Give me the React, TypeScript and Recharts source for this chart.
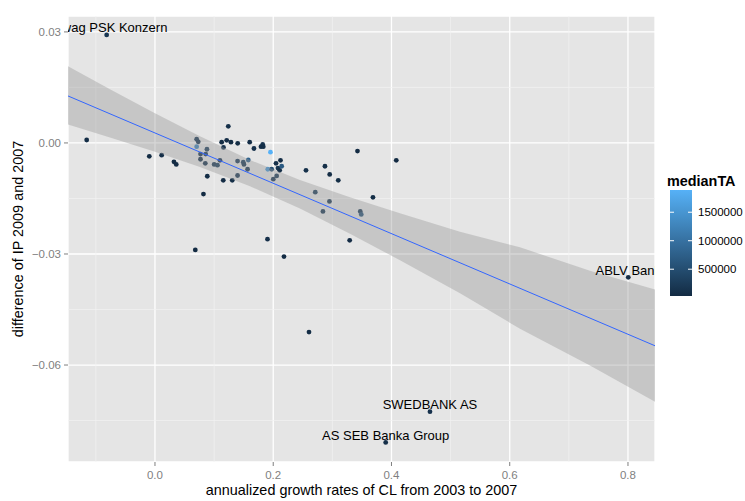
import React from 'react';
import {
  ComposedChart,
  Scatter,
  Area,
  Line,
  XAxis,
  YAxis,
  CartesianGrid,
  ReferenceLine,
} from 'recharts';

// one entry per bank: growth of CL 2003-07, change of IP 2007-09, median total assets
const growthCL = [
  -0.0817, -0.1155, -0.0096, 0.0113, 0.0321, 0.036, 0.0705, 0.0732, 0.0705, 0.0879,
  0.077, 0.0858, 0.077, 0.0851, 0.0885, 0.082, 0.0682, 0.1001, 0.1057, 0.1099,
  0.124, 0.1128, 0.1213, 0.1285, 0.1159, 0.1399, 0.1155, 0.1307, 0.1397, 0.1397,
  0.1493, 0.1505, 0.1578, 0.1566, 0.1602, 0.1674, 0.1793, 0.1822, 0.1832, 0.1953,
  0.1908, 0.1974, 0.2047, 0.2123, 0.208, 0.2109, 0.2143, 0.2058, 0.2001, 0.1903,
  0.2182, 0.2554, 0.2875, 0.2955, 0.31, 0.3425, 0.2711, 0.2951, 0.2841, 0.3472,
  0.3489, 0.3687, 0.3293, 0.4081, 0.2605, 0.4651, 0.3902, 0.8005,
];
const diffIP = [
  0.0292, 0.0008, -0.0036, -0.0033, -0.0051, -0.0058, 0.001, 0.0003, -0.001, -0.0017,
  -0.003, -0.003, -0.0044, -0.0055, -0.009, -0.0138, -0.0289, -0.0058, -0.006, -0.0047,
  0.0045, 0.0002, 0.0007, 0.0002, -0.0012, -0.0001, -0.0101, -0.0101, -0.0049, -0.0088,
  -0.0052, -0.0058, -0.0046, -0.0071, 0.0002, -0.0015, -0.001, -0.0004, -0.001, -0.0025,
  -0.0071, -0.0071, -0.0055, -0.0047, -0.0068, -0.0074, -0.0063, -0.0089, -0.0098, -0.026,
  -0.0307, -0.0074, -0.0063, -0.0085, -0.0101, -0.0022, -0.0133, -0.0158, -0.0185, -0.0185,
  -0.0193, -0.0147, -0.0263, -0.0047, -0.0511, -0.0726, -0.0809, -0.0363,
];
const medianTA = [
  180000, 60000, 40000, 90000, 30000, 50000, 210000, 150000, 1250000, 300000,
  120000, 180000, 80000, 140000, 70000, 45000, 35000, 200000, 260000, 110000,
  95000, 55000, 75000, 40000, 130000, 65000, 50000, 85000, 240000, 160000,
  280000, 190000, 780000, 170000, 60000, 120000, 90000, 140000, 70000, 1890000,
  1520000, 520000, 100000, 60000, 150000, 80000, 680000, 220000, 170000, 90000,
  40000, 110000, 80000, 55000, 65000, 45000, 260000, 200000, 180000, 230000,
  560000, 70000, 50000, 35000, 60000, 120000, 90000, 75000,
];

const labelNames = ['Bawag PSK Konzern', 'SWEDBANK AS', 'AS SEB Banka Group', 'ABLV Bank'];
const labelGrowth = [-0.0817, 0.4651, 0.3902, 0.8005];
const labelDiff = [0.0292, -0.0726, -0.0809, -0.0363];

// linear fit and its confidence band
const fitX = [-0.1471, 0.8457];
const fitY = [0.0127, -0.0548];
const bandX = [-0.1471, -0.0761, 0, 0.0761, 0.1607, 0.2452, 0.3298, 0.4144, 0.5159, 0.6173, 0.7357, 0.8457];
const bandLow = [0.005, 0.0015, -0.0024, -0.0065, -0.0117, -0.0177, -0.0245, -0.0317, -0.0406, -0.0502, -0.0601, -0.0699];
const bandHigh = [0.0207, 0.0145, 0.008, 0.0018, -0.0046, -0.01, -0.0147, -0.019, -0.024, -0.0282, -0.0345, -0.0396];

const xTicks = [0, 0.2, 0.4, 0.6, 0.8];
const yTicks = [-0.06, -0.03, 0, 0.03];
const xMinor = [-0.1, 0.1, 0.3, 0.5, 0.7];
const yMinor = [-0.075, -0.045, -0.015, 0.015];
const legendTicks = [500000, 1000000, 1500000];
const taRange = [30000, 1890000];

const LOW = [19, 43, 67];
const HIGH = [86, 177, 247];

const taColor = (v: number) => {
  const t = Math.max(0, Math.min(1, (v - taRange[0]) / (taRange[1] - taRange[0])));
  const c = LOW.map((l, i) => Math.round(l + (HIGH[i] - l) * t));
  return `rgb(${c[0]},${c[1]},${c[2]})`;
};

const points = growthCL.map((x, i) => ({ x, y: diffIP[i], ta: medianTA[i] }));
const labelPoints = labelNames.map((name, i) => ({ x: labelGrowth[i], y: labelDiff[i], name }));
const fitLine = fitX.map((x, i) => ({ x, y: fitY[i] }));
const band = bandX.map((x, i) => ({ x, range: [bandLow[i], bandHigh[i]] }));

const fmtY = (v: number) => v.toFixed(2).replace('-', '\u2212');

const Dot = (p: any) => <circle cx={p.cx} cy={p.cy} r={2.4} fill={taColor(p.payload.ta)} />;

const Tag = (p: any) => (
  <text x={p.cx} y={p.cy - 2.5} textAnchor="middle" fontSize={13} fill="#000">
    {p.payload.name}
  </text>
);

const XTitle = (p: any) => {
  const vb = p.viewBox;
  return (
    <text x={vb.x + vb.width / 2} y={vb.y + vb.height - 6.5} textAnchor="middle" fontSize={14.4} fill="#000">
      annualized growth rates of CL from 2003 to 2007
    </text>
  );
};

const YTitle = (p: any) => {
  const vb = p.viewBox;
  const cx = vb.x + 23;
  const cy = vb.y + vb.height / 2;
  return (
    <text x={cx} y={cy} transform={`rotate(-90 ${cx} ${cy})`} textAnchor="middle" fontSize={14.4} fill="#000">
      difference of IP 2009 and 2007
    </text>
  );
};

const ColorBar = () => {
  const top = 25;
  const h = 106;
  const left = 10;
  const w = 22;
  const stops = [0, 0.25, 0.5, 0.75, 1];
  const posOf = (v: number) => top + ((taRange[1] - v) / (taRange[1] - taRange[0])) * h;
  return (
    <svg width={85} height={140} style={{ position: 'absolute', left: 660, top: 165 }}>
      <defs>
        <linearGradient id="taGrad" x1="0" y1="0" x2="0" y2="1">
          {stops.map((s) => (
            <stop key={s} offset={s} stopColor={taColor(taRange[1] - s * (taRange[1] - taRange[0]))} />
          ))}
        </linearGradient>
      </defs>
      <text x={7} y={21} fontSize={14.4} fontWeight="bold" fill="#000">medianTA</text>
      <rect x={left} y={top} width={w} height={h} fill="url(#taGrad)" />
      {legendTicks.map((t) => (
        <g key={t}>
          <line x1={left} x2={left + 4} y1={posOf(t)} y2={posOf(t)} stroke="#fff" strokeWidth={1} />
          <line x1={left + w - 4} x2={left + w} y1={posOf(t)} y2={posOf(t)} stroke="#fff" strokeWidth={1} />
          <text x={left + w + 6} y={posOf(t) + 4} fontSize={11.5} fill="#000">{t}</text>
        </g>
      ))}
    </svg>
  );
};

export default function App() {
  return (
    <div style={{ position: 'relative', width: 745, height: 501, fontFamily: '"Liberation Sans", Arial, sans-serif' }}>
      <style>{'body{margin:0}'}</style>
      <ComposedChart width={745} height={501} margin={{ top: 16, right: 90, bottom: 0, left: 0 }}>
        <CartesianGrid fill="#E5E5E5" fillOpacity={1} stroke="#FFFFFF" strokeWidth={1.3} />
        {xMinor.map((v) => (
          <ReferenceLine key={'vx' + v} x={v} stroke="#F2F2F2" strokeWidth={0.7} zIndex={-50} />
        ))}
        {yMinor.map((v) => (
          <ReferenceLine key={'hy' + v} y={v} stroke="#F2F2F2" strokeWidth={0.7} zIndex={-50} />
        ))}
        <XAxis
          type="number"
          dataKey="x"
          domain={[-0.1471, 0.8457]}
          allowDataOverflow
          ticks={xTicks}
          tickFormatter={(v: number) => v.toFixed(1)}
          height={39}
          axisLine={false}
          tickSize={4}
          tickMargin={5}
          tick={{ fill: '#7F7F7F', fontSize: 11.5 }}
          tickLine={{ stroke: '#7F7F7F' }}
          label={{ content: XTitle }}
        />
        <YAxis
          type="number"
          domain={[-0.0862, 0.0343]}
          allowDataOverflow
          ticks={yTicks}
          tickFormatter={fmtY}
          width={68}
          axisLine={false}
          tickSize={4}
          tickMargin={3}
          tick={{ fill: '#7F7F7F', fontSize: 11.5 }}
          tickLine={{ stroke: '#7F7F7F' }}
          label={{ content: YTitle }}
        />
        <Scatter data={points} dataKey="y" shape={Dot} isAnimationActive={false} zIndex={300} />
        <Area
          data={band}
          dataKey="range"
          type="linear"
          fill="#999999"
          fillOpacity={0.4}
          stroke="none"
          dot={false}
          activeDot={false}
          isAnimationActive={false}
          zIndex={400}
        />
        <Line
          data={fitLine}
          dataKey="y"
          type="linear"
          stroke="#3366FF"
          strokeWidth={1}
          dot={false}
          activeDot={false}
          isAnimationActive={false}
          zIndex={500}
        />
        <Scatter data={labelPoints} dataKey="y" shape={Tag} isAnimationActive={false} zIndex={600} />
      </ComposedChart>
      <ColorBar />
    </div>
  );
}
